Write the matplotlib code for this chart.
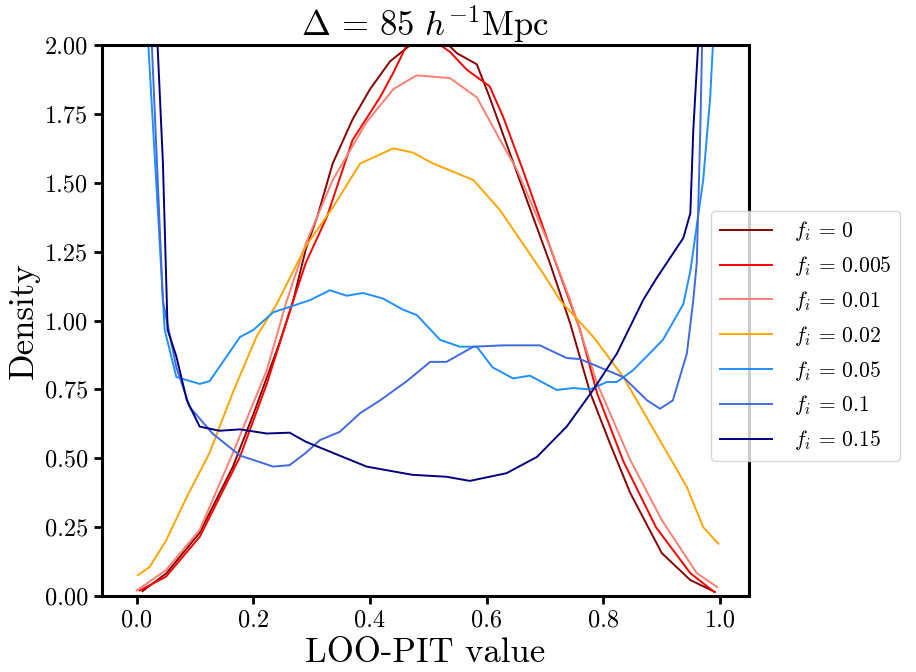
import matplotlib
matplotlib.use("Agg")
import matplotlib.pyplot as plt

plt.rcParams['font.family'] = 'serif'
plt.rcParams['font.serif'] = ['cmr10']
plt.rcParams['mathtext.fontset'] = 'cm'
plt.rcParams['axes.formatter.use_mathtext'] = True

# LOO-PIT density curves
labels = [r'$f_i \,=\, 0$', r'$f_i \,=\, 0.005$', r'$f_i \,=\, 0.01$', r'$f_i \,=\, 0.02$',
          r'$f_i \,=\, 0.05$', r'$f_i \,=\, 0.1$', r'$f_i \,=\, 0.15$']
colors = ['darkred', 'red', 'salmon', 'orange', 'dodgerblue', 'royalblue', 'navy']

x_f0 = [0.01, 0.051, 0.108, 0.165, 0.2, 0.245, 0.268, 0.29, 0.31, 0.336, 0.37, 0.4, 0.434,
        0.463, 0.49, 0.52, 0.549, 0.583, 0.605, 0.652, 0.708, 0.743, 0.777, 0.811, 0.846,
        0.9, 0.949, 0.991]
y_f0 = [0.018, 0.083, 0.23, 0.47, 0.66, 0.92, 1.07, 1.26, 1.38, 1.57, 1.73, 1.84, 1.94,
        1.99, 2.03, 2.03, 1.97, 1.93, 1.81, 1.535, 1.21, 0.99, 0.74, 0.555, 0.374,
        0.156, 0.058, 0.015]

x_f005 = [0.005, 0.05, 0.108, 0.177, 0.223, 0.268, 0.29, 0.326, 0.37, 0.417, 0.44, 0.463,
          0.5, 0.537, 0.566, 0.605, 0.628, 0.662, 0.708, 0.76, 0.789, 0.834, 0.89, 0.949, 0.99]
y_f005 = [0.02, 0.07, 0.215, 0.505, 0.77, 1.07, 1.21, 1.376, 1.655, 1.81, 1.90, 2.0,
          2.03, 1.975, 1.91, 1.85, 1.74, 1.546, 1.27, 0.966, 0.737, 0.49, 0.25, 0.083, 0.015]

x_f01 = [0.0, 0.05, 0.108, 0.165, 0.223, 0.257, 0.29, 0.336, 0.394, 0.44, 0.48, 0.537,
         0.583, 0.623, 0.652, 0.708, 0.743, 0.789, 0.846, 0.9, 0.96, 0.995]
y_f01 = [0.02, 0.094, 0.24, 0.52, 0.82, 1.07, 1.28, 1.51, 1.72, 1.84, 1.89, 1.88,
         1.81, 1.655, 1.546, 1.27, 1.074, 0.773, 0.494, 0.276, 0.083, 0.033]

x_f02 = [0.002, 0.022, 0.05, 0.086, 0.125, 0.165, 0.205, 0.24, 0.29, 0.336, 0.383, 0.44,
         0.473, 0.508, 0.577, 0.623, 0.697, 0.727, 0.783, 0.834, 0.89, 0.943, 0.971, 0.997]
y_f02 = [0.076, 0.105, 0.20, 0.36, 0.52, 0.74, 0.94, 1.06, 1.27, 1.41, 1.57, 1.625,
         1.61, 1.57, 1.51, 1.40, 1.17, 1.07, 0.94, 0.795, 0.59, 0.396, 0.25, 0.19]

x_f05 = [0.0, 0.02, 0.048, 0.068, 0.108, 0.125, 0.177, 0.2, 0.234, 0.297, 0.331, 0.36,
         0.388, 0.422, 0.456, 0.48, 0.52, 0.554, 0.583, 0.61, 0.645, 0.674, 0.72, 0.748,
         0.777, 0.806, 0.823, 0.851, 0.902, 0.937, 0.949, 0.971, 0.983, 0.995]
y_f05 = [3.0, 2.0, 0.966, 0.795, 0.77, 0.78, 0.94, 0.966, 1.03, 1.074, 1.11, 1.09,
         1.10, 1.08, 1.04, 1.02, 0.93, 0.905, 0.905, 0.83, 0.79, 0.80, 0.748, 0.755,
         0.75, 0.777, 0.777, 0.82, 0.93, 1.06, 1.18, 1.51, 1.81, 2.3]

x_f1 = [0.0, 0.026, 0.045, 0.068, 0.091, 0.13, 0.177, 0.234, 0.262, 0.29, 0.314, 0.348,
        0.383, 0.417, 0.463, 0.503, 0.531, 0.577, 0.628, 0.691, 0.737, 0.76, 0.794, 0.834,
        0.875, 0.897, 0.919, 0.943, 0.954, 0.96, 0.966, 0.969, 0.98]
y_f1 = [3.5, 2.0, 1.07, 0.83, 0.686, 0.59, 0.51, 0.47, 0.475, 0.52, 0.566, 0.596,
        0.664, 0.71, 0.78, 0.85, 0.85, 0.905, 0.91, 0.91, 0.864, 0.86, 0.83, 0.795,
        0.71, 0.68, 0.71, 0.88, 1.074, 1.21, 1.69, 1.99, 3.0]

x_f15 = [0.0, 0.036, 0.045, 0.053, 0.068, 0.086, 0.108, 0.142, 0.177, 0.223, 0.262, 0.29,
         0.336, 0.394, 0.428, 0.473, 0.531, 0.571, 0.634, 0.686, 0.737, 0.783, 0.823, 0.868,
         0.89, 0.937, 0.949, 0.954, 0.962, 0.975]
y_f15 = [4.0, 1.99, 1.57, 0.966, 0.87, 0.71, 0.615, 0.60, 0.605, 0.59, 0.593, 0.56,
         0.52, 0.47, 0.457, 0.44, 0.433, 0.418, 0.446, 0.505, 0.615, 0.75, 0.88, 1.074,
         1.15, 1.30, 1.39, 1.69, 1.99, 3.0]

xs = [x_f0, x_f005, x_f01, x_f02, x_f05, x_f1, x_f15]
ys = [y_f0, y_f005, y_f01, y_f02, y_f05, y_f1, y_f15]

fig = plt.figure(figsize=(9.16, 6.72), dpi=100)
ax = fig.add_axes([0.111, 0.113, 0.707, 0.820])

for x, y, c, lab in zip(xs, ys, colors, labels):
    ax.plot(x, y, color=c, lw=1.4, label=lab)

ax.set_xlim(-0.06, 1.05)
ax.set_ylim(0, 2)
ax.set_xticks([0.0, 0.2, 0.4, 0.6, 0.8, 1.0])
ax.set_yticks([0, 0.25, 0.5, 0.75, 1.0, 1.25, 1.5, 1.75, 2.0])
ax.set_xticklabels(['0.0', '0.2', '0.4', '0.6', '0.8', '1.0'])
ax.set_yticklabels(['0.00', '0.25', '0.50', '0.75', '1.00', '1.25', '1.50', '1.75', '2.00'])
ax.tick_params(labelsize=17.5, width=2, length=6)
for s in ax.spines.values():
    s.set_linewidth(2.2)

ax.set_xlabel('LOO-PIT value', fontsize=25)
ax.set_ylabel('Density', fontsize=25)
ax.set_title(r'$\Delta \,=\, 85\ h^{-1}{\rm Mpc}$', fontsize=25)

ax.legend(loc='upper left', bbox_to_anchor=(0.941, 0.699), borderaxespad=0,
          fontsize=15.5, handlelength=2.45, handletextpad=1.0)

fig.savefig('out.png', dpi=100)
